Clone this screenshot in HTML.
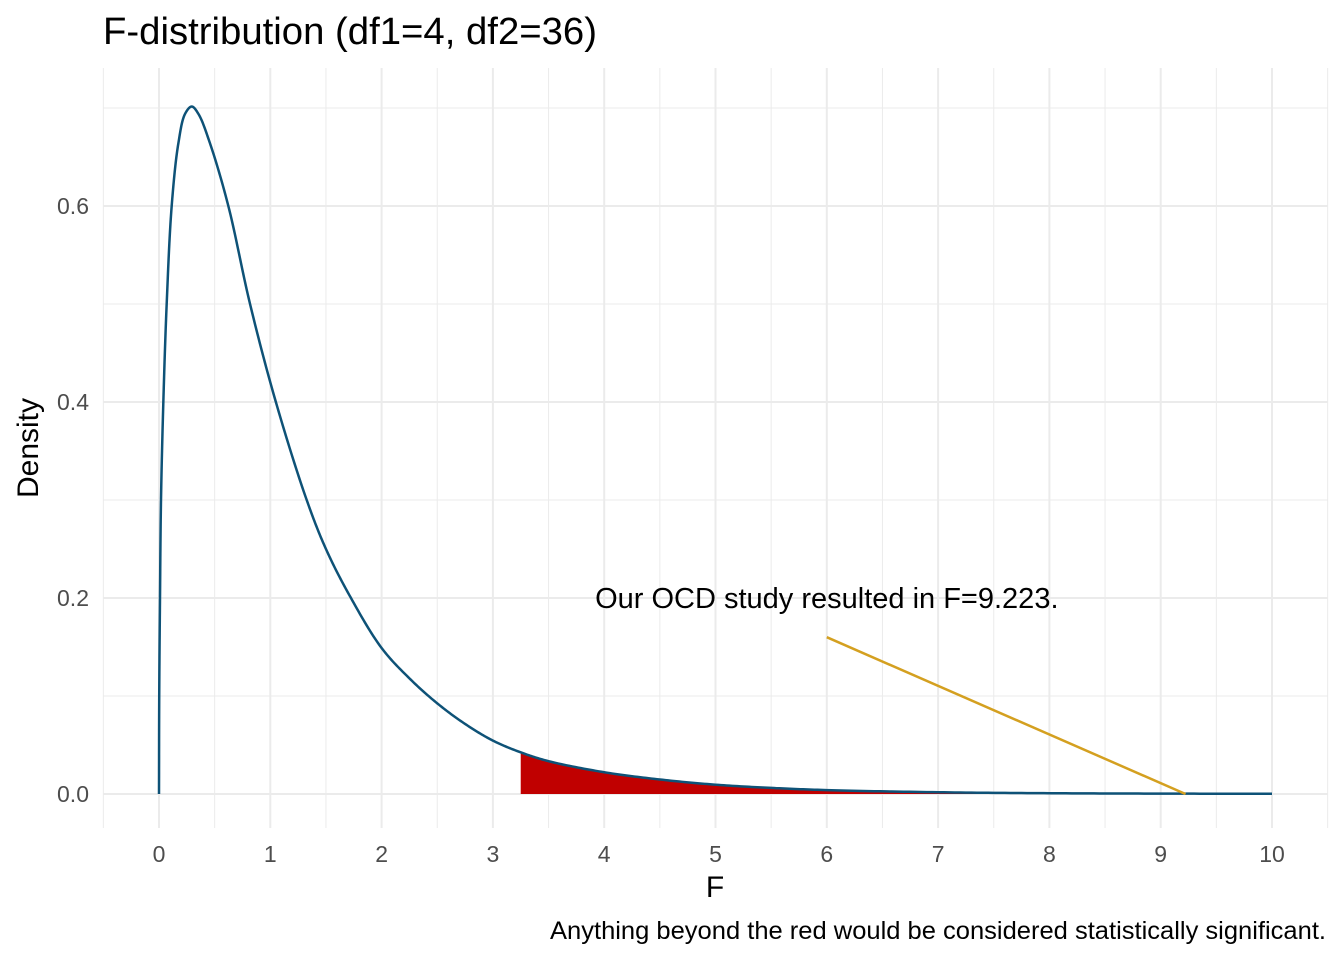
<!DOCTYPE html>
<html><head><meta charset="utf-8"><style>
body{margin:0;background:#fff;font-family:"Liberation Sans",sans-serif}
svg text{font-family:"Liberation Sans",sans-serif}
</style></head><body>
<svg id="chart" width="1344" height="960" xmlns="http://www.w3.org/2000/svg">
<text x="103" y="44" font-size="38" fill="#000" textLength="494" lengthAdjust="spacingAndGlyphs">F-distribution (df1=4, df2=36)</text>
<g id="grid"></g><g id="marks"></g><g id="axes"></g>
<text x="715" y="897" font-size="30" text-anchor="middle">F</text>
<text transform="translate(38,448) rotate(-90)" font-size="30" text-anchor="middle">Density</text>
<text x="1326" y="939" font-size="25" text-anchor="end" textLength="776" lengthAdjust="spacingAndGlyphs">Anything beyond the red would be considered statistically significant.</text>
</svg>
<script>
const xs=[0,0.002,0.009,0.018,0.039,0.069,0.114,0.174,0.234,0.294,0.354,0.458,0.623,0.818,1.05,1.327,1.5,1.71,2,2.25,2.5,2.75,3,3.25,3.5,4,4.5,5,5.5,6,7,8,9,10];
const ys=[0,0.1,0.2,0.3,0.4,0.5,0.6,0.664,0.694,0.7015,0.694,0.664,0.6,0.5,0.4,0.3,0.25,0.203,0.149,0.118,0.0925,0.0715,0.0545,0.0425,0.0335,0.0222,0.0148,0.0095,0.0062,0.004,0.0018,0.0008,0.0004,0.0002];
const xTicks=[0,1,2,3,4,5,6,7,8,9,10];
const yTicks=[0,0.2,0.4,0.6];
const critF=3.25, obsF=9.223;
const annot={x:6,y:0.2,lx:6,ly:0.16,label:"Our OCD study resulted in F=9.223."};
const X=v=>159+v*111.3, Y=v=>794-v*980;
const NS="http://www.w3.org/2000/svg";
function mk(p,t,a){const e=document.createElementNS(NS,t);for(const k in a)e.setAttribute(k,a[k]);p.appendChild(e);return e;}
const grid=document.getElementById('grid'),marks=document.getElementById('marks'),axes=document.getElementById('axes');
for(let v=-0.5;v<=10.5;v+=0.5){const l=mk(grid,'line',{x1:X(v),x2:X(v),y1:68,y2:828,stroke:'#ebebeb','stroke-width':Number.isInteger(v)?2:1});

}
for(let v=0;v<=0.7001;v+=0.1){const l=mk(grid,'line',{x1:103,x2:1328,y1:Y(v),y2:Y(v),stroke:'#ebebeb','stroke-width':yTicks.some(t=>Math.abs(t-v)<1e-6)?2:1});

}
xTicks.forEach(t=>{const e=mk(axes,'text',{x:X(t),y:862,'font-size':23,'text-anchor':'middle',fill:'#4d4d4d'});e.textContent=t;

});
yTicks.forEach(t=>{const e=mk(axes,'text',{x:89,y:Y(t)+8,'font-size':23,'text-anchor':'end',fill:'#4d4d4d'});e.textContent=t.toFixed(1);

});
// centripetal Catmull-Rom in pixel space
const P=xs.map((x,i)=>[X(x),Y(ys[i])]);
function cr(p0,p1,p2,p3,steps,out){
  const tj=(a,b)=>Math.pow(Math.hypot(b[0]-a[0],b[1]-a[1])||1e-4,0.5);
  const t0=0,t1=t0+tj(p0,p1),t2=t1+tj(p1,p2),t3=t2+tj(p2,p3);
  for(let k=1;k<=steps;k++){const t=t1+(t2-t1)*k/steps;
    const L=(a,b,ta,tb)=>[a[0]*(tb-t)/(tb-ta)+b[0]*(t-ta)/(tb-ta),a[1]*(tb-t)/(tb-ta)+b[1]*(t-ta)/(tb-ta)];
    const A1=L(p0,p1,t0,t1),A2=L(p1,p2,t1,t2),A3=L(p2,p3,t2,t3);
    const B1=L(A1,A2,t0,t2),B2=L(A2,A3,t1,t3);out.push(L(B1,B2,t1,t2));}
}
const dense=[P[0]];
for(let i=0;i<P.length-1;i++){
  const p0=i>0?P[i-1]:[2*P[0][0]-P[1][0],2*P[0][1]-P[1][1]];
  const p3=i<P.length-2?P[i+2]:[2*P[i+1][0]-P[i][0],2*P[i+1][1]-P[i][1]];
  cr(p0,P[i],P[i+1],p3,20,dense);
}
const cx=X(critF),ox=X(obsF);
function yAt(px){for(let i=1;i<dense.length;i++)if(dense[i][0]>=px&&dense[i-1][0]<=px){const a=dense[i-1],b=dense[i],f=(px-a[0])/((b[0]-a[0])||1);return a[1]+f*(b[1]-a[1]);}return Y(0);}
const tail=[[cx,yAt(cx)]].concat(dense.filter(p=>p[0]>cx&&p[0]<ox&&p[0]>X(1))).concat([[ox,yAt(ox)]]);
const area=mk(marks,'path',{d:`M${cx},${Y(0)} L`+tail.map(p=>p[0]+','+p[1]).join(' L')+` L${ox},${Y(0)} Z`,fill:'#c00000'});


const curve=mk(marks,'path',{d:'M'+dense.map(p=>p[0].toFixed(2)+','+p[1].toFixed(2)).join(' L'),fill:'none',stroke:'#0e5277','stroke-width':2.5,'stroke-linejoin':'round'});


const al=mk(marks,'line',{x1:X(annot.lx),y1:Y(annot.ly),x2:X(obsF),y2:Y(0),stroke:'#d4a020','stroke-width':2.5});


const at=mk(marks,'text',{x:X(annot.x),y:Y(annot.y)+10,'font-size':29,'text-anchor':'middle'});at.textContent=annot.label;


</script>
</body></html>
